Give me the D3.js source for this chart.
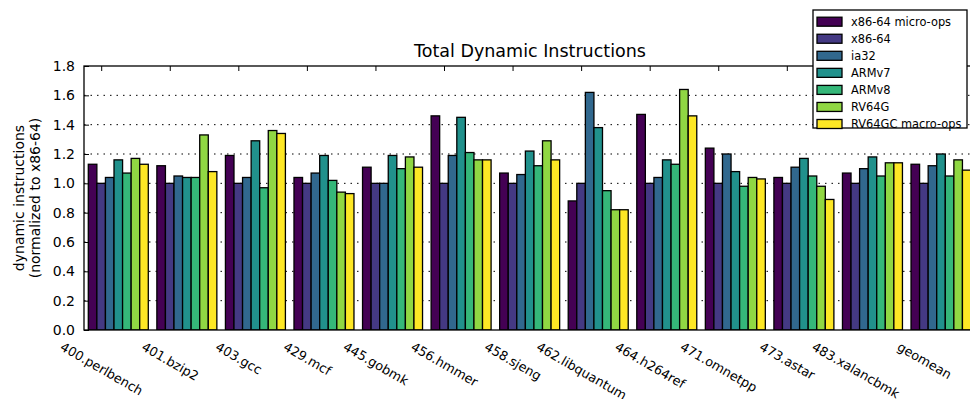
<!DOCTYPE html>
<html>
<head>
<meta charset="utf-8">
<script src="https://cdn.jsdelivr.net/npm/d3@7"></script>
<style>
  html, body { margin: 0; padding: 0; background: #fff; }
  svg { display: block; font-family: "DejaVu Sans", sans-serif; }
</style>
</head>
<body>
<svg id="chart" width="970" height="399"></svg>
<script>
const categories = ["400.perlbench","401.bzip2","403.gcc","429.mcf","445.gobmk","456.hmmer","458.sjeng","462.libquantum","464.h264ref","471.omnetpp","473.astar","483.xalancbmk","geomean"];
const seriesNames = ["x86-64 micro-ops","x86-64","ia32","ARMv7","ARMv8","RV64G","RV64GC macro-ops"];
const seriesColors = ["#440154","#443983","#31688e","#21918c","#35b779","#90d743","#fde725"];
const microOps  = [1.13,1.12,1.19,1.04,1.11,1.46,1.07,0.88,1.47,1.24,1.04,1.07,1.13];
const x86_64    = [1.00,1.00,1.00,1.00,1.00,1.00,1.00,1.00,1.00,1.00,1.00,1.00,1.00];
const ia32      = [1.04,1.05,1.04,1.07,1.00,1.19,1.06,1.62,1.04,1.20,1.11,1.10,1.12];
const armv7     = [1.16,1.04,1.29,1.19,1.19,1.45,1.22,1.38,1.16,1.08,1.17,1.18,1.20];
const armv8     = [1.07,1.04,0.97,1.02,1.10,1.21,1.12,0.95,1.13,0.98,1.05,1.05,1.05];
const rv64g     = [1.17,1.33,1.36,0.94,1.18,1.16,1.29,0.82,1.64,1.04,0.98,1.14,1.16];
const rv64gc    = [1.13,1.08,1.34,0.93,1.11,1.16,1.16,0.82,1.46,1.03,0.89,1.14,1.09];
const yTicks = [0.0,0.2,0.4,0.6,0.8,1.0,1.2,1.4,1.6,1.8];

const seriesValues = [microOps, x86_64, ia32, armv7, armv8, rv64g, rv64gc];

const svg = d3.select("#chart");
const frame = {left: 84, right: 976, top: 66, bottom: 330};
const groupStart = 88.3, pitch = 68.56;

const x0 = d3.scaleBand().domain(categories)
  .range([groupStart, groupStart + pitch * categories.length]).padding(0);
const x1 = d3.scaleBand().domain(seriesNames)
  .range([0, pitch * 7 / 8]).padding(0);
const y = d3.scaleLinear().domain([0, 1.8]).range([frame.bottom, frame.top]);
const tickOffset = 13.4;

svg.append("defs").append("clipPath").attr("id", "plotclip")
  .append("rect").attr("x", frame.left).attr("y", frame.top)
  .attr("width", frame.right - frame.left).attr("height", frame.bottom - frame.top);

// gridlines
const grid = svg.append("g").attr("clip-path", "url(#plotclip)");
grid.selectAll("line").data(yTicks.slice(1, -1)).join("line")
  .attr("x1", frame.left).attr("x2", frame.right)
  .attr("y1", d => y(d)).attr("y2", d => y(d))
  .attr("stroke", "#000").attr("stroke-width", 1)
  .attr("stroke-dasharray", "1.5,5");

// bars
const data = [];
categories.forEach((c, i) => {
  seriesNames.forEach((s, j) => {
    data.push({c, s, j, v: seriesValues[j][i]});
  });
});
svg.append("g").attr("clip-path", "url(#plotclip)")
  .selectAll("rect").data(data).join("rect")
  .attr("x", d => x0(d.c) + x1(d.s))
  .attr("y", d => y(d.v))
  .attr("width", x1.bandwidth())
  .attr("height", d => y(0) - y(d.v))
  .attr("fill", d => seriesColors[d.j])
  .attr("stroke", "#000").attr("stroke-width", 1.3);

// frame
svg.append("rect").attr("x", frame.left).attr("y", frame.top)
  .attr("width", frame.right - frame.left).attr("height", frame.bottom - frame.top)
  .attr("fill", "none").attr("stroke", "#000").attr("stroke-width", 1.3);

// y axis (inward ticks)
const yAxis = d3.axisLeft(y).tickValues(yTicks).tickFormat(d3.format(".1f"))
  .tickSizeInner(-5).tickSizeOuter(0).tickPadding(9);
const yg = svg.append("g").attr("transform", `translate(${frame.left},0)`).call(yAxis);
yg.select(".domain").remove();
yg.selectAll("text").attr("font-size", 14).attr("fill", "#000")
  .attr("font-family", "DejaVu Sans, sans-serif");

// top inward ticks
const tickX = categories.map(c => x0(c) + tickOffset);
svg.append("g").selectAll("line").data(tickX).join("line")
  .attr("x1", d => d).attr("x2", d => d)
  .attr("y1", frame.top).attr("y2", frame.top + 5)
  .attr("stroke", "#000").attr("stroke-width", 1);

// x labels rotated 30deg, bounding box centered on tick
const xl = svg.append("g");
const xFont = 12.8;
categories.forEach((c, i) => {
  const t = xl.append("text").text(c)
    .attr("font-size", xFont).attr("fill", "#000")
    .attr("text-anchor", "middle").attr("dominant-baseline", "central");
  const L = t.node().getComputedTextLength();
  const ang = 30 * Math.PI / 180;
  const boxH = L * Math.sin(ang) + xFont * Math.cos(ang);
  const cx = tickX[i], cy = frame.bottom + 10 + boxH / 2;
  t.attr("transform", `translate(${cx},${cy}) rotate(30)`);
});

// title
svg.append("text").attr("x", 530).attr("y", 56.5)
  .attr("text-anchor", "middle").attr("font-size", 17.5).attr("fill", "#000")
  .text("Total Dynamic Instructions");

// y label
const yl = svg.append("text").attr("text-anchor", "middle").attr("font-size", 14)
  .attr("transform", `translate(24,${(frame.top + frame.bottom) / 2}) rotate(-90)`);
yl.append("tspan").attr("x", 0).attr("dy", 0).text("dynamic instructions");
yl.append("tspan").attr("x", 0).attr("dy", 16).text("(normalized to x86-64)");

// legend
const leg = svg.append("g");
leg.append("rect").attr("x", 813).attr("y", 10).attr("width", 154).attr("height", 118)
  .attr("fill", "#fff").attr("stroke", "#000").attr("stroke-width", 1.3);
seriesNames.forEach((s, j) => {
  const cy = 21.7 + j * 17.05;
  leg.append("rect").attr("x", 817).attr("y", cy - 4.5).attr("width", 25).attr("height", 9)
    .attr("fill", seriesColors[j]).attr("stroke", "#000").attr("stroke-width", 1.3);
  leg.append("text").attr("x", 851).attr("y", cy).attr("dominant-baseline", "central")
    .attr("font-size", 11.4).attr("fill", "#000").text(s);
});
</script>
</body>
</html>
